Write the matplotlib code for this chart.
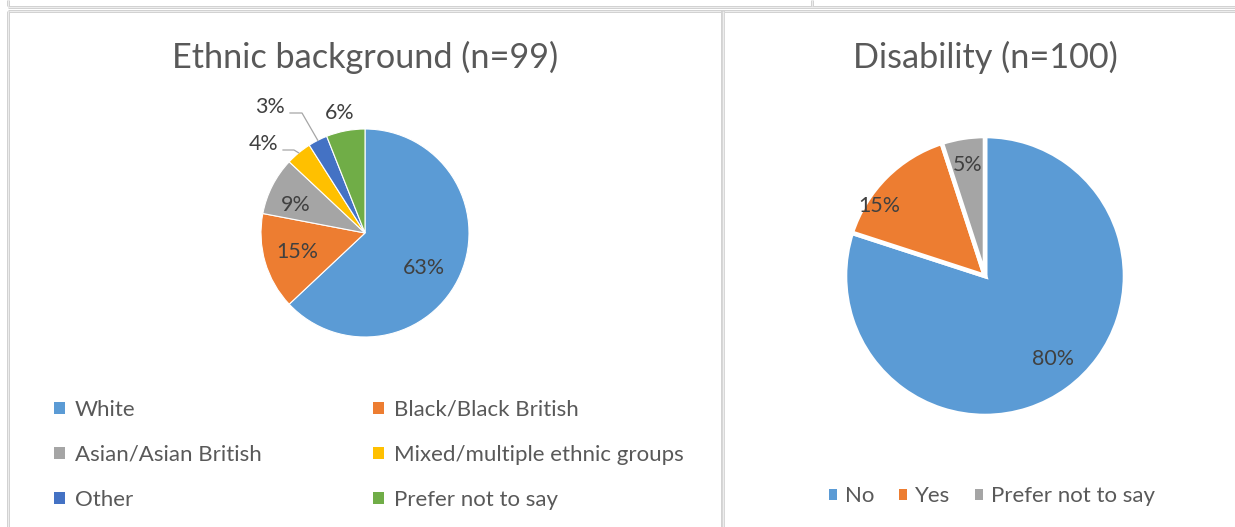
import matplotlib
matplotlib.use("Agg")
import matplotlib.pyplot as plt
from matplotlib.lines import Line2D
import numpy as np

W, H = 1235, 527

ethnic_labels = ["White", "Black/Black British", "Asian/Asian British",
                 "Mixed/multiple ethnic groups", "Other", "Prefer not to say"]
ethnic_pct = [63, 15, 9, 4, 3, 6]
ethnic_colors = ["#5B9BD5", "#ED7D31", "#A5A5A5", "#FFC000", "#4472C4", "#70AD47"]

disability_labels = ["No", "Yes", "Prefer not to say"]
disability_pct = [80, 15, 5]
disability_colors = ["#5B9BD5", "#ED7D31", "#A5A5A5"]

TEXT = "#595959"
LABEL = "#404040"
FONT = ["Lato", "DejaVu Sans"]
plt.rcParams["font.family"] = FONT

fig = plt.figure(figsize=(W / 100, H / 100), dpi=100)
ax = fig.add_axes([0, 0, 1, 1])


def y(v):
    # pixel rows counted from the top
    return H - v


def reset_view():
    ax.set_xlim(0, W)
    ax.set_ylim(0, H)
    ax.set_aspect("equal")
    ax.set_axis_off()


# cell borders of the surrounding table
def border(xs, ys, width=4):
    ax.add_line(Line2D(xs, ys, color="#D2D2D2", lw=width * 0.72, solid_capstyle="butt"))
    ax.add_line(Line2D(xs, ys, color="#EDEDED", lw=width * 0.25, solid_capstyle="butt"))

border([8, W], [y(6.5), y(6.5)], 3)
border([8, W], [y(11), y(11)], 3)
border([8, 8], [y(0), y(6)], 3)
border([812, 812], [y(0), y(6)], 3)
border([8, 8], [y(11), y(H)], 3)
border([723, 723], [y(11), y(H)], 4)

# ---- ethnic background ----
ax.text(365, y(57), "Ethnic background (n=99)", ha="center", va="center",
        fontsize=24.7, color=TEXT)
cx, cy, r = 365, y(233), 104
wedges, _ = ax.pie(ethnic_pct, colors=ethnic_colors, startangle=90,
                   counterclock=False, center=(cx, cy), radius=r,
                   wedgeprops=dict(edgecolor="white", linewidth=0.8),
                   frame=True)
reset_view()

label_pos = [(424, 268), (297, 252), (296, 205), (264, 144), (270, 107), (340, 113)]
for (lx, ly), p in zip(label_pos, ethnic_pct):
    ax.text(lx, y(ly), f"{p}%", ha="center", va="center", fontsize=15.4, color=LABEL)


def edge_point(w, frac=1.0):
    a = np.deg2rad((w.theta1 + w.theta2) / 2)
    return cx + r * frac * np.cos(a), cy + r * frac * np.sin(a)

# leader lines for the two small slices
ex, ey = edge_point(wedges[4])
ax.add_line(Line2D([290, 302, ex], [y(113), y(113), ey], color="#A6A6A6", lw=0.9))
ex, ey = edge_point(wedges[3])
ax.add_line(Line2D([283, 294, ex], [y(150), y(150), ey], color="#A6A6A6", lw=0.9))

# legend is filled row by row, matplotlib fills columns first
order = [0, 2, 4, 1, 3, 5]
leg1 = ax.legend([wedges[i] for i in order], [ethnic_labels[i] for i in order],
                 ncol=2, loc="upper left",
                 bbox_to_anchor=(54, y(400)), bbox_transform=ax.transData,
                 frameon=False, fontsize=16, labelcolor=TEXT,
                 handlelength=0.5, handleheight=0.5, handletextpad=0.45,
                 labelspacing=1.12, columnspacing=5.0, borderaxespad=0,
                 borderpad=0)
for h in leg1.legend_handles:
    h.set_linewidth(0)
ax.add_artist(leg1)

# ---- disability ----
ax.text(985, y(57), "Disability (n=100)", ha="center", va="center",
        fontsize=24.7, color=TEXT)
dcx, dcy, dr = 985, y(276), 140
dwedges, _ = ax.pie(disability_pct, colors=disability_colors, startangle=90,
                    counterclock=False, center=(dcx, dcy), radius=dr,
                    wedgeprops=dict(edgecolor="white", linewidth=3.3),
                    frame=True)
reset_view()

dlabel_pos = [(1053, 359), (879, 206), (968, 165)]
for (lx, ly), p in zip(dlabel_pos, disability_pct):
    ax.text(lx, y(ly), f"{p}%", ha="center", va="center", fontsize=15.4, color=LABEL)

leg2 = ax.legend(dwedges, disability_labels, ncol=3, loc="upper left",
                 bbox_to_anchor=(829, y(486)), bbox_transform=ax.transData,
                 frameon=False, fontsize=16, labelcolor=TEXT,
                 handlelength=0.38, handleheight=0.38, handletextpad=0.35,
                 columnspacing=1.1, borderaxespad=0, borderpad=0)
for h in leg2.legend_handles:
    h.set_linewidth(0)

fig.savefig("out.png", dpi=100, facecolor="white")
